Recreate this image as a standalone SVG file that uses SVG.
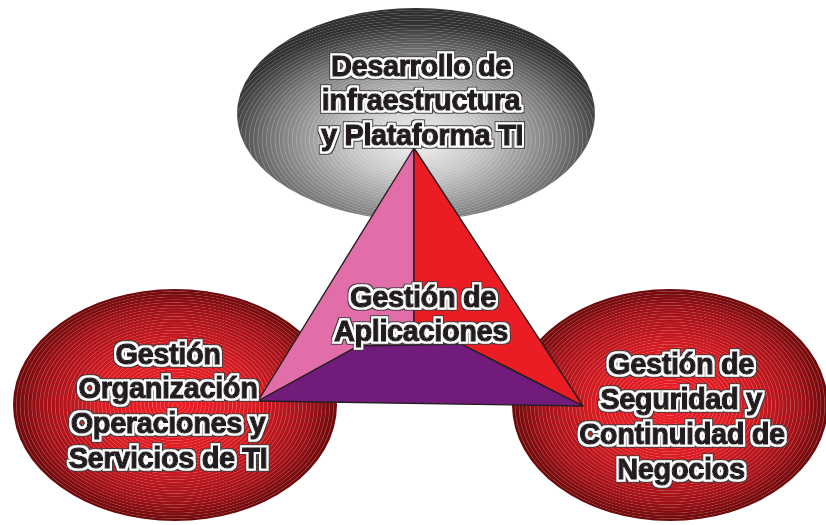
<svg xmlns="http://www.w3.org/2000/svg" width="826" height="525" viewBox="0 0 826 525">
  <style>
    .lbl { font-family: "Liberation Sans", Arial, sans-serif; font-weight: bold; font-size: 29px; letter-spacing: -0.4px; fill: #231f20; stroke: #231f20; stroke-width: 1.3px; text-anchor: middle; filter: url(#halo); }
    .face { stroke: #231f20; stroke-width: 1.4; stroke-linejoin: round; }
  </style>
  <defs>
    <radialGradient id="grayFill" cx="0.5" cy="0.62" r="0.55">
      <stop offset="0" stop-color="#f4f4f4"/>
      <stop offset="0.35" stop-color="#c4c4c4"/>
      <stop offset="0.75" stop-color="#747474"/>
      <stop offset="1" stop-color="#303030"/>
    </radialGradient>
    <radialGradient id="redFill" cx="0.5" cy="0.5" r="0.52">
      <stop offset="0" stop-color="#ee1c25"/>
      <stop offset="0.45" stop-color="#d91b22"/>
      <stop offset="0.8" stop-color="#a01016"/>
      <stop offset="1" stop-color="#600708"/>
    </radialGradient>
    <radialGradient id="rings" cx="0.5" cy="0.5" r="0.012" spreadMethod="repeat">
      <stop offset="0" stop-color="#fff" stop-opacity="0"/>
      <stop offset="0.6" stop-color="#fff" stop-opacity="0"/>
      <stop offset="0.8" stop-color="#fff" stop-opacity="0.26"/>
      <stop offset="1" stop-color="#fff" stop-opacity="0"/>
    </radialGradient>
    <radialGradient id="ringsGray" cx="0.5" cy="0.62" r="0.012" spreadMethod="repeat">
      <stop offset="0" stop-color="#fff" stop-opacity="0"/>
      <stop offset="0.6" stop-color="#fff" stop-opacity="0"/>
      <stop offset="0.8" stop-color="#fff" stop-opacity="0.24"/>
      <stop offset="1" stop-color="#fff" stop-opacity="0"/>
    </radialGradient>
    <filter id="halo" x="-15%" y="-40%" width="130%" height="180%">
      <feMorphology in="SourceAlpha" operator="dilate" radius="3.2" result="d2"/>
      <feFlood flood-color="#3c3c3c"/>
      <feComposite in2="d2" operator="in" result="dark"/>
      <feMorphology in="SourceAlpha" operator="dilate" radius="2.3" result="d1"/>
      <feFlood flood-color="#ffffff"/>
      <feComposite in2="d1" operator="in" result="white"/>
      <feMerge>
        <feMergeNode in="dark"/>
        <feMergeNode in="white"/>
        <feMergeNode in="SourceGraphic"/>
      </feMerge>
    </filter>
  </defs>

  <rect width="826" height="525" fill="#ffffff"/>

  <g id="node-infraestructura">
    <ellipse cx="416" cy="114" rx="179" ry="106" fill="url(#grayFill)"/>
    <ellipse cx="416" cy="114" rx="179" ry="106" fill="url(#ringsGray)"/>
  </g>

  <g id="node-organizacion">
    <ellipse cx="175" cy="405" rx="162" ry="116" fill="url(#redFill)"/>
    <ellipse cx="175" cy="405" rx="162" ry="116" fill="url(#rings)"/>
  </g>

  <g id="node-seguridad">
    <ellipse cx="670" cy="405" rx="158" ry="116" fill="url(#redFill)"/>
    <ellipse cx="670" cy="405" rx="158" ry="116" fill="url(#rings)"/>
  </g>

  <g id="node-aplicaciones">
    <polygon class="face" points="414,148 258,401 358,346 414,345" fill="#e26ea9"/>
    <polygon class="face" points="414,148 414,345 461,344 583,406" fill="#ec1c24"/>
    <polygon class="face" points="258,401 358,346 461,344 583,406" fill="#711b7b"/>
  </g>

  <g id="labels">
    <text class="lbl" x="421" y="76">Desarrollo de</text>
    <text class="lbl" x="421" y="110">infraestructura</text>
    <text class="lbl" x="422" y="145">y Plataforma TI</text>

    <text class="lbl" x="423" y="307">Gestión de</text>
    <text class="lbl" x="421" y="341">Aplicaciones</text>

    <text class="lbl" x="168" y="364">Gestión</text>
    <text class="lbl" x="168" y="398">Organización</text>
    <text class="lbl" x="168" y="433">Operaciones y</text>
    <text class="lbl" x="168" y="468">Servicios de TI</text>

    <text class="lbl" x="681" y="374">Gestión de</text>
    <text class="lbl" x="681" y="409">Seguridad y</text>
    <text class="lbl" x="682" y="444">Continuidad de</text>
    <text class="lbl" x="681" y="479">Negocios</text>
  </g>
</svg>
